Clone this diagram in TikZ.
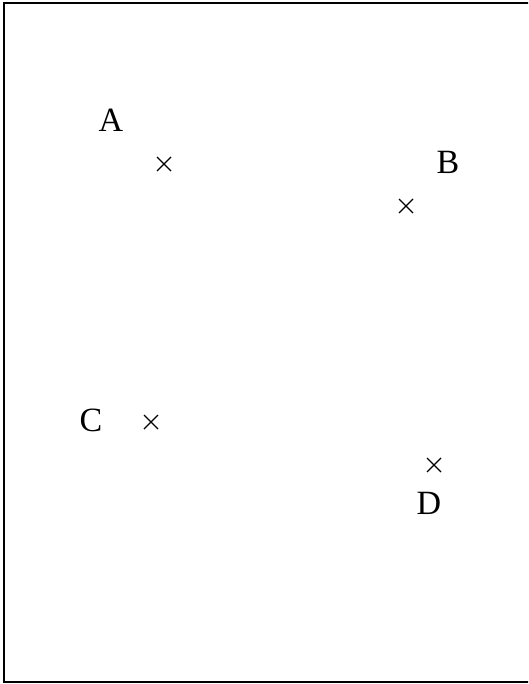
\documentclass[tikz,border=0pt]{standalone}
\usepackage{fontspec}
\setmainfont{Liberation Serif}
\begin{document}
\begin{tikzpicture}[x=1pt,y=-1pt,
  lbl/.style={inner sep=0pt,font=\fontsize{34}{37}\selectfont},
  cross/.style={line width=1.2pt}]
\useasboundingbox (0,0) rectangle (528,684);
\begin{scope}
\clip (0,0) rectangle (528,684);
\draw[line width=2.2pt] (4,3) rectangle (530,682);
\end{scope}
\coordinate (pa) at (164,164);
\coordinate (pb) at (406,206);
\coordinate (pc) at (151,422);
\coordinate (pd) at (434,465);
\foreach \p in {pa,pb,pc,pd}{
  \draw[cross] ([shift={(-7,-7)}]\p) -- ([shift={(7,7)}]\p);
  \draw[cross] ([shift={(-7,7)}]\p) -- ([shift={(7,-7)}]\p);
}
\node[lbl] (la) at (111,120) {A};
\node[lbl] (lb) at (448,162) {B};
\node[lbl] (lc) at (91,420) {C};
\node[lbl] (ld) at (429,503) {D};
\end{tikzpicture}
\end{document}
